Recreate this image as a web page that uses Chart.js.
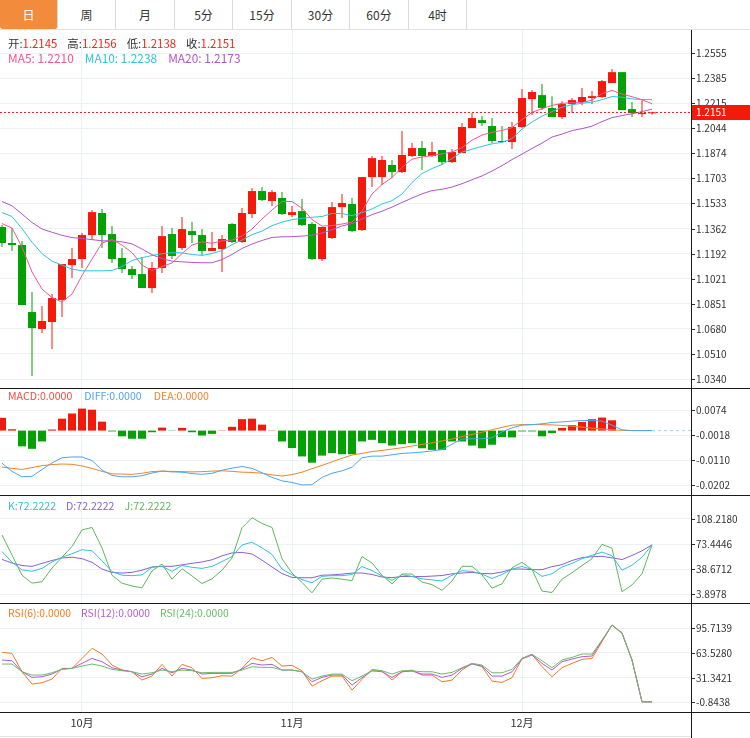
<!DOCTYPE html>
<html>
<head>
<meta charset="utf-8">
<script src="https://cdn.jsdelivr.net/npm/chart.js@4.4.1/dist/chart.umd.min.js"></script>
<style>
  body { margin: 0; background: #fff; font-family: "Noto Sans CJK SC", "Noto Sans", sans-serif; }
  #wrap { position: relative; width: 750px; height: 738px; overflow: hidden; background: #fff; }
  .tabs { position: absolute; left: 0; top: 0; width: 750px; height: 29px; border-bottom: 1px solid #e2e2e2; }
  .tab { position: absolute; top: 0; height: 29px; line-height: 29px; text-align: center; font-size: 12px; color: #333; border-right: 1px solid #dadada; }
  .tab.on { background: #f28c3c; color: #fff; border-radius: 0 0 3px 3px; }
  canvas { position: absolute; left: 0; }
  .hl { position: absolute; left: 0; width: 750px; height: 1px; background: #1a1a1a; z-index: 5; }
  .vl { position: absolute; left: 691px; top: 30px; width: 1px; height: 708px; background: #1a1a1a; z-index: 5; }
  .lg { position: absolute; left: 8px; line-height: 16px; white-space: nowrap; z-index: 6; }
</style>
</head>
<body>
<div id="wrap">
  <div class="tabs" id="tabs"></div>
  <canvas id="cMain" width="750" height="358" style="top:30px"></canvas>
  <canvas id="cMacd" width="750" height="107" style="top:388px"></canvas>
  <canvas id="cKdj" width="750" height="108" style="top:495px"></canvas>
  <canvas id="cRsi" width="750" height="135" style="top:603px"></canvas>
  <div class="hl" style="top:388px"></div>
  <div class="hl" style="top:495px"></div>
  <div class="hl" style="top:603px"></div>
  <div class="hl" style="top:712px"></div>
  <div class="hl" style="top:736px;background:#e2e2e2;width:691px"></div>
  <div class="vl"></div>
</div>
<script>
const FONT = '"Noto Sans CJK SC", "Noto Sans", sans-serif';
Chart.defaults.font.family = FONT;

const tabs = ['日', '周', '月', '5分', '15分', '30分', '60分', '4时'];
const monthLabels = ['10月', '11月', '12月'];
const monthStart = [8, 29, 52]; // bar index where each month begins

// daily candles
const open = [1.1373, 1.1264, 1.1250, 1.0795, 1.0680, 1.0727, 1.0877, 1.1114, 1.1155, 1.1318,
  1.1468, 1.1325, 1.1162, 1.1087, 1.1053, 1.0958, 1.1094, 1.1325, 1.1230, 1.1345,
  1.1318, 1.1210, 1.1223, 1.1393, 1.1271, 1.1461, 1.1617, 1.1549, 1.1570, 1.1454,
  1.1481, 1.1393, 1.1155, 1.1298, 1.1508, 1.1529, 1.1352, 1.1712, 1.1712, 1.1794,
  1.1746, 1.1855, 1.1909, 1.1855, 1.1896, 1.1814, 1.1875, 1.2045, 1.2099, 1.2059,
  1.1957, 1.1950, 1.2052, 1.2242, 1.2269, 1.2181, 1.2120, 1.2208, 1.2222, 1.2249,
  1.2256, 1.2351, 1.2425, 1.2174, 1.2140, 1.2145];
const high = [1.1386, 1.1366, 1.1277, 1.0931, 1.0836, 1.0917, 1.1121, 1.1230, 1.1332, 1.1488,
  1.1495, 1.1379, 1.1230, 1.1108, 1.1169, 1.1135, 1.1379, 1.1366, 1.1440, 1.1407,
  1.1359, 1.1339, 1.1318, 1.1400, 1.1502, 1.1637, 1.1644, 1.1624, 1.1610, 1.1515,
  1.1563, 1.1407, 1.1373, 1.1542, 1.1597, 1.1570, 1.1712, 1.1855, 1.1855, 1.1828,
  1.2025, 1.1943, 1.1957, 1.1950, 1.1896, 1.1902, 1.2079, 1.2147, 1.2127, 1.2113,
  1.2059, 1.2086, 1.2310, 1.2303, 1.2344, 1.2262, 1.2228, 1.2249, 1.2317, 1.2296,
  1.2371, 1.2446, 1.2425, 1.2222, 1.2242, 1.2156];
const low = [1.1237, 1.1210, 1.0843, 1.0360, 1.0652, 1.0544, 1.0761, 1.1026, 1.1094, 1.1284,
  1.1230, 1.1128, 1.1060, 1.1019, 1.0958, 1.0924, 1.1060, 1.1155, 1.1216, 1.1264,
  1.1182, 1.1210, 1.1067, 1.1264, 1.1264, 1.1434, 1.1549, 1.1515, 1.1454, 1.1440,
  1.1379, 1.1148, 1.1142, 1.1291, 1.1434, 1.1339, 1.1345, 1.1644, 1.1658, 1.1705,
  1.1739, 1.1848, 1.1760, 1.1848, 1.1794, 1.1807, 1.1875, 1.2045, 1.2059, 1.1943,
  1.1943, 1.1902, 1.2045, 1.2133, 1.2167, 1.2120, 1.2106, 1.2147, 1.2201, 1.2208,
  1.2249, 1.2351, 1.2167, 1.2120, 1.2120, 1.2138];
const close = [1.1264, 1.1250, 1.0843, 1.0686, 1.0734, 1.0890, 1.1121, 1.1155, 1.1318, 1.1474,
  1.1318, 1.1155, 1.1087, 1.1046, 1.0958, 1.1094, 1.1311, 1.1176, 1.1359, 1.1318,
  1.1210, 1.1230, 1.1291, 1.1271, 1.1468, 1.1617, 1.1556, 1.1610, 1.1461, 1.1474,
  1.1386, 1.1155, 1.1373, 1.1508, 1.1536, 1.1345, 1.1712, 1.1841, 1.1828, 1.1746,
  1.1862, 1.1909, 1.1855, 1.1882, 1.1814, 1.1882, 1.2052, 1.2113, 1.2079, 1.1957,
  1.1950, 1.2052, 1.2249, 1.2290, 1.2181, 1.2120, 1.2208, 1.2235, 1.2256, 1.2262,
  1.2364, 1.2425, 1.2167, 1.2147, 1.2147, 1.2151];

// moving averages as drawn
const ma5 = [1.1396, 1.1366, 1.1236, 1.1067, 1.0951, 1.0893, 1.0863, 1.0917, 1.1043, 1.1155,
  1.1264, 1.1287, 1.1250, 1.1199, 1.1114, 1.1077, 1.1104, 1.1128, 1.1192, 1.1250,
  1.1272, 1.1262, 1.1279, 1.1284, 1.1311, 1.1359, 1.1427, 1.1488, 1.1546, 1.1546,
  1.1501, 1.1423, 1.1379, 1.1382, 1.1393, 1.1406, 1.1481, 1.1597, 1.1661, 1.1709,
  1.1777, 1.1834, 1.1848, 1.1858, 1.1870, 1.1882, 1.1912, 1.1963, 1.1997, 1.2016,
  1.2029, 1.2048, 1.2102, 1.2151, 1.2177, 1.2199, 1.2213, 1.2217, 1.2218, 1.2235,
  1.2279, 1.2301, 1.2276, 1.2258, 1.2238, 1.2210];
const ma10 = [1.1471, 1.1444, 1.1362, 1.1270, 1.1192, 1.1141, 1.1114, 1.1087, 1.1075, 1.1075,
  1.1075, 1.1077, 1.1104, 1.1145, 1.1164, 1.1179, 1.1191, 1.1198, 1.1197, 1.1186,
  1.1180, 1.1192, 1.1213, 1.1253, 1.1284, 1.1321, 1.1345, 1.1382, 1.1406, 1.1423,
  1.1432, 1.1439, 1.1444, 1.1465, 1.1464, 1.1450, 1.1471, 1.1495, 1.1529, 1.1552,
  1.1597, 1.1675, 1.1736, 1.1770, 1.1797, 1.1838, 1.1882, 1.1901, 1.1921, 1.1938,
  1.1948, 1.1974, 1.2038, 1.2086, 1.2126, 1.2157, 1.2187, 1.2204, 1.2213, 1.2221,
  1.2238, 1.2259, 1.2255, 1.2243, 1.2239, 1.2238];
const ma20 = [1.1546, 1.1517, 1.1461, 1.1403, 1.1359, 1.1337, 1.1316, 1.1301, 1.1295, 1.1287,
  1.1279, 1.1279, 1.1272, 1.1258, 1.1223, 1.1185, 1.1158, 1.1141, 1.1136, 1.1132,
  1.1130, 1.1130, 1.1151, 1.1186, 1.1227, 1.1257, 1.1281, 1.1302, 1.1306, 1.1307,
  1.1311, 1.1317, 1.1332, 1.1354, 1.1380, 1.1396, 1.1427, 1.1457, 1.1480, 1.1508,
  1.1540, 1.1569, 1.1598, 1.1620, 1.1629, 1.1644, 1.1667, 1.1694, 1.1720, 1.1753,
  1.1790, 1.1831, 1.1868, 1.1906, 1.1943, 1.1984, 1.2004, 1.2028, 1.2041, 1.2058,
  1.2089, 1.2116, 1.2130, 1.2142, 1.2157, 1.2173];

// MACD
const macd = [0.0047, 0.0005, -0.0058, -0.0067, -0.0040, 0.0004, 0.0044, 0.0063, 0.0081, 0.0077,
  0.0033, -0.0003, -0.0021, -0.0030, -0.0030, -0.0006, 0.0011, -0.0001, 0.0010, -0.0006,
  -0.0018, -0.0012, 0.0001, 0.0014, 0.0042, 0.0044, 0.0022, 0.0001, -0.0040, -0.0064,
  -0.0095, -0.0118, -0.0092, -0.0083, -0.0087, -0.0087, -0.0040, -0.0034, -0.0046, -0.0055,
  -0.0050, -0.0046, -0.0065, -0.0071, -0.0071, -0.0040, -0.0040, -0.0055, -0.0065, -0.0052,
  -0.0024, -0.0025, -0.0003, -0.0003, -0.0021, -0.0009, 0.0010, 0.0020, 0.0032, 0.0042,
  0.0048, 0.0038, 0, 0, 0, 0];
const diff = [-0.0120, -0.0150, -0.0170, -0.0168, -0.0143, -0.0119, -0.0100, -0.0097, -0.0097, -0.0110,
  -0.0145, -0.0165, -0.0170, -0.0170, -0.0166, -0.0156, -0.0149, -0.0152, -0.0153, -0.0158,
  -0.0161, -0.0157, -0.0146, -0.0138, -0.0132, -0.0139, -0.0155, -0.0172, -0.0185, -0.0191,
  -0.0200, -0.0199, -0.0172, -0.0157, -0.0148, -0.0135, -0.0100, -0.0094, -0.0094, -0.0089,
  -0.0084, -0.0082, -0.0079, -0.0075, -0.0070, -0.0050, -0.0031, -0.0030, -0.0030, -0.0026,
  -0.0005, 0.0010, 0.0020, 0.0022, 0.0025, 0.0030, 0.0032, 0.0035, 0.0037, 0.0037,
  0.0035, 0.0020, 0.0003, 0, 0, 0];
const dea = [-0.0134, -0.0139, -0.0143, -0.0136, -0.0129, -0.0125, -0.0123, -0.0124, -0.0130, -0.0139,
  -0.0150, -0.0159, -0.0160, -0.0161, -0.0157, -0.0151, -0.0149, -0.0150, -0.0151, -0.0152,
  -0.0151, -0.0149, -0.0148, -0.0150, -0.0153, -0.0154, -0.0157, -0.0163, -0.0167, -0.0162,
  -0.0153, -0.0140, -0.0128, -0.0115, -0.0102, -0.0090, -0.0084, -0.0077, -0.0073, -0.0068,
  -0.0063, -0.0057, -0.0051, -0.0045, -0.0038, -0.0031, -0.0022, -0.0014, -0.0006, 0.0003,
  0.0012, 0.0020, 0.0022, 0.0022, 0.0022, 0.0021, 0.0019, 0.0016, 0.0013, 0.0009,
  0.0006, 0.0003, 0.0001, 0, 0, 0];

// KDJ
const kdjK = [63, 48, 37.5, 35.5, 39.5, 48.5, 55, 60, 65.5, 64,
  50, 35, 30, 29.4, 30.5, 41, 42.4, 35.4, 43.5, 41,
  39.5, 42.4, 49, 56, 72, 76, 68, 59, 38.5, 30.5,
  24, 19.5, 28.5, 29.4, 29.4, 31, 42, 36.5, 29, 23,
  30.8, 28.3, 25, 23.5, 22, 30, 36.3, 35.3, 31.5, 25.5,
  31, 38.5, 42.2, 38, 28.5, 32, 41.5, 46.5, 53, 57.8,
  62.2, 57, 37, 44, 55, 72.2222];
const kdjD = [52, 47, 43.5, 42.3, 46.5, 50.5, 54, 55, 53, 48,
  38.5, 34, 33, 34, 37, 41.5, 42.4, 42.4, 44.5, 46.5,
  48.5, 51.5, 57, 61, 61.8, 59.5, 51, 41.5, 32.3, 27,
  26.5, 26.5, 30, 30.5, 31.6, 33, 33.1, 31, 27.5, 26.6,
  28.3, 28.3, 28.1, 28.8, 29.6, 32, 33, 34, 32.5, 32,
  34.5, 38.5, 38.6, 37.8, 37.7, 42, 44.8, 50.5, 54.5, 55.7,
  56.3, 54.2, 51.8, 57.5, 64, 72.2222];
const kdjJ = [86, 58, 30, 19, 21, 40, 55, 70, 93, 96.5,
  68, 30, 19, 15, 12.5, 36, 45.5, 24.5, 39, 29,
  18.5, 25, 37, 54, 96, 110, 102, 96.5, 53, 33,
  20, 5.5, 24.5, 26.2, 24.5, 22.5, 56, 47, 30, 18,
  31.7, 31.7, 20.5, 17, 9, 22, 42.4, 42.4, 30.5, 12,
  18, 40.5, 47.9, 38, 8, 6, 24.5, 33.5, 43.5, 53,
  73, 67.5, 7, 16.5, 32, 72.2222];

// RSI
const rsi6 = [64.1, 62.8, 39.0, 23.0, 24.8, 29.5, 43.4, 43.4, 56.3, 69.3,
  62.0, 47.7, 41.2, 39.0, 28.2, 33.4, 48.6, 33.4, 48.6, 44.2,
  30.4, 31.3, 33.8, 33.4, 43.4, 57.2, 53.3, 57.6, 46.4, 47.3,
  40.3, 20.4, 27.4, 33.4, 33.4, 15.2, 29.1, 42.1, 40.3, 28.2,
  39.0, 41.2, 34.7, 34.7, 26.0, 28.2, 41.2, 49.9, 45.5, 26.9,
  25.2, 31.3, 56.3, 61.6, 45.5, 32.6, 44.2, 49.9, 55.0, 56.3,
  78.0, 99.6, 89.7, 54.2, 0, 0];
const rsi12 = [54.2, 53.3, 39.0, 31.7, 32.5, 36.0, 42.5, 43.4, 49.9, 56.3,
  52.0, 44.2, 41.2, 39.0, 32.5, 36.0, 43.4, 37.7, 43.4, 41.2,
  36.0, 36.9, 36.9, 36.9, 42.5, 49.9, 47.7, 48.6, 41.2, 41.2,
  39.0, 26.0, 31.7, 34.7, 34.7, 21.7, 31.3, 40.3, 39.0, 31.7,
  39.0, 39.9, 36.0, 36.0, 31.7, 34.7, 43.4, 49.0, 46.4, 33.4,
  33.4, 39.0, 55.5, 60.7, 49.9, 41.2, 52.0, 55.5, 58.5, 59.4,
  79.3, 99.6, 88.8, 54.2, 0, 0];
const rsi24 = [49.0, 49.0, 39.0, 34.7, 34.7, 37.7, 42.1, 43.4, 46.4, 49.0,
  46.4, 42.1, 40.3, 39.0, 36.0, 37.7, 41.2, 39.0, 41.2, 40.3,
  37.7, 38.2, 38.2, 38.2, 41.2, 45.5, 44.7, 44.7, 41.2, 41.2,
  39.0, 29.5, 33.4, 36.0, 36.0, 27.4, 33.4, 40.3, 40.3, 36.0,
  40.3, 40.3, 39.0, 39.0, 36.0, 38.2, 44.2, 49.9, 47.7, 37.7,
  37.7, 42.1, 56.3, 61.6, 53.3, 44.2, 54.2, 57.6, 62.0, 62.0,
  80.1, 99.6, 88.8, 54.2, 0, 0];

// right-axis tick labels
const priceTicks = [1.2555, 1.2385, 1.2215, 1.2044, 1.1874, 1.1703, 1.1533, 1.1362, 1.1192, 1.1021, 1.0851, 1.0680, 1.0510, 1.0340];
const macdTicks = [0.0074, -0.0018, -0.0110, -0.0202];
const kdjTicks = [108.2180, 73.4446, 38.6712, 3.8978];
const rsiTicks = [95.7139, 63.5280, 31.3421, -0.8438];

const UP = '#f41a0b', DOWN = '#04a104', GRID = '#ecf1f6';
const X_MIN = -0.2, X_MAX = 68.9;
const last = close.length - 1;

// tabs
const tabBox = document.getElementById('tabs');
tabs.forEach((t, k) => {
  const left = k === 0 ? 0 : Math.round(57 + (k - 1) * 58.43) + 1;
  const right = Math.round(57 + k * 58.43);
  const d = document.createElement('div');
  d.className = 'tab' + (k === 0 ? ' on' : '');
  d.style.left = left + 'px';
  d.style.width = (right - left) + 'px';
  d.textContent = t;
  tabBox.appendChild(d);
});

// legends
const wrap = document.getElementById('wrap');
function legend(top, size, gap, items) {
  const d = document.createElement('div');
  d.className = 'lg';
  d.style.top = top + 'px';
  d.style.fontSize = size + 'px';
  d.innerHTML = items.map(([label, value, lc, vc]) =>
    `<span style="color:${lc}">${label}</span><span style="color:${vc || lc};margin-right:${gap}px">${value}</span>`).join('');
  wrap.appendChild(d);
}
const RED = '#f0241b';
legend(35, 11.4, 10, [['开:', open[last].toFixed(4), '#333', RED], ['高:', high[last].toFixed(4), '#333', RED],
  ['低:', low[last].toFixed(4), '#333', RED], ['收:', close[last].toFixed(4), '#333', RED]]);
legend(50, 11.9, 11, [['MA5: ', ma5[last].toFixed(4), '#f0588a'], ['MA10: ', ma10[last].toFixed(4), '#2ec5dc'],
  ['MA20: ', ma20[last].toFixed(4), '#b256c8']]);
legend(388, 10.6, 12, [['MACD:', macd[last].toFixed(4), '#f34a3e'], ['DIFF:', diff[last].toFixed(4), '#4ea5ee'],
  ['DEA:', dea[last].toFixed(4), '#f5822a']]);
legend(498, 10.6, 10, [['K:', kdjK[last].toFixed(4), '#31c2da'], ['D:', kdjD[last].toFixed(4), '#8c5fd6'],
  ['J:', kdjJ[last].toFixed(4), '#5db85d']]);
legend(605, 10.4, 10, [['RSI(6):', rsi6[last].toFixed(4), '#f57a1e'], ['RSI(12):', rsi12[last].toFixed(4), '#b35bd1'],
  ['RSI(24):', rsi24[last].toFixed(4), '#6abc6a']]);

// draws right-axis labels and the current price tag
const axisLabels = {
  id: 'axisLabels',
  afterDraw(chart, args, opts) {
    const { ctx, chartArea } = chart;
    const y = chart.scales.y;
    ctx.save();
    ctx.font = '10px ' + FONT;
    ctx.textBaseline = 'middle';
    ctx.fillStyle = '#333';
    ctx.strokeStyle = '#333';
    ctx.lineWidth = 1;
    opts.ticks.forEach(v => {
      const py = Math.round(y.getPixelForValue(v)) + 0.5;
      ctx.beginPath();
      ctx.moveTo(chartArea.right, py);
      ctx.lineTo(chartArea.right + 4, py);
      ctx.stroke();
      ctx.fillText(v.toFixed(4), chartArea.right + 5, py);
    });
    if (opts.tag != null) {
      const py = Math.round(y.getPixelForValue(opts.tag));
      ctx.fillStyle = UP;
      ctx.fillRect(chartArea.right + 1, py - 7, 59, 15);
      ctx.fillStyle = '#fff';
      ctx.fillText(opts.tag.toFixed(4), chartArea.right + 5, py + 0.5);
    }
    ctx.restore();
  }
};

function xScale(showLabels) {
  return {
    type: 'linear', min: X_MIN, max: X_MAX, offset: false,
    grid: { color: GRID, drawTicks: false, offset: false },
    border: { display: false },
    ticks: {
      display: showLabels, autoSkip: false, maxRotation: 0, padding: 4,
      color: '#333', font: { size: 11, family: FONT },
      callback: (v, i) => monthLabels[i]
    },
    afterBuildTicks: s => { s.ticks = monthStart.map(v => ({ value: v })); },
    afterFit: s => { s.height = showLabels ? 26 : 0; }
  };
}
function yScale(min, max, ticks) {
  return {
    position: 'right', min, max,
    grid: { color: GRID, drawTicks: false },
    border: { display: false },
    ticks: { display: false },
    afterBuildTicks: s => { s.ticks = ticks.map(v => ({ value: v })); },
    afterFit: s => { s.width = 59; }
  };
}
function baseOptions(showX, yMin, yMax, ticks, tag) {
  return {
    responsive: false, animation: false, events: [],
    layout: { padding: 0 },
    scales: { x: xScale(showX), y: yScale(yMin, yMax, ticks) },
    plugins: { legend: { display: false }, tooltip: { enabled: false }, axisLabels: { ticks, tag } }
  };
}
const pts = arr => arr.map((y, x) => ({ x, y }));
const line = (arr, color, extra) => Object.assign({
  type: 'line', data: pts(arr), borderColor: color, borderWidth: 1, pointRadius: 0, tension: 0, order: 1
}, extra || {});
const candleColor = c => close[c.dataIndex] >= open[c.dataIndex] ? UP : DOWN;

// main candles
new Chart(document.getElementById('cMain'), {
  type: 'bar',
  data: {
    datasets: [
      { data: low.map((l, i) => ({ x: i, y: [l, high[i]] })), backgroundColor: candleColor,
        barThickness: 1, grouped: false, inflateAmount: 0, order: 4 },
      { data: open.map((o, i) => ({ x: i, y: [o, close[i]] })), backgroundColor: candleColor,
        barThickness: 8, grouped: false, inflateAmount: 0, minBarLength: 1, order: 3 },
      line(ma20, '#b256c8'),
      line(ma10, '#2ec5dc'),
      line(ma5, '#f0588a'),
      { type: 'line', data: [{ x: X_MIN, y: close[last] }, { x: X_MAX, y: close[last] }],
        borderColor: '#f21c10', borderWidth: 1, borderDash: [2, 2], pointRadius: 0, order: 0 }
    ]
  },
  options: baseOptions(false, 1.02789, 1.27113, priceTicks, close[last]),
  plugins: [axisLabels]
});

// MACD
new Chart(document.getElementById('cMacd'), {
  type: 'bar',
  data: {
    datasets: [
      { data: pts(macd), backgroundColor: c => macd[c.dataIndex] >= 0 ? UP : DOWN,
        barThickness: 8, grouped: false, inflateAmount: 0, order: 3 },
      line(diff, '#4ea5ee'),
      line(dea, '#f5822a'),
      { type: 'line', data: [{ x: last, y: diff[last] }, { x: X_MAX, y: diff[last] }],
        borderColor: '#9fd0f4', borderWidth: 1, borderDash: [3, 3], pointRadius: 0, order: 0 }
    ]
  },
  options: baseOptions(false, -0.0237, 0.01568, macdTicks),
  plugins: [axisLabels]
});

// KDJ
new Chart(document.getElementById('cKdj'), {
  type: 'line',
  data: { datasets: [line(kdjJ, '#5db85d'), line(kdjK, '#31c2da'), line(kdjD, '#8c5fd6')] },
  options: baseOptions(false, -8.62, 141.60, kdjTicks),
  plugins: [axisLabels]
});

// RSI
new Chart(document.getElementById('cRsi'), {
  type: 'line',
  data: { datasets: [line(rsi24, '#6abc6a'), line(rsi12, '#b35bd1'), line(rsi6, '#f57a1e')] },
  options: baseOptions(true, -13.157, 128.116, rsiTicks),
  plugins: [axisLabels]
});
</script>
</body>
</html>
